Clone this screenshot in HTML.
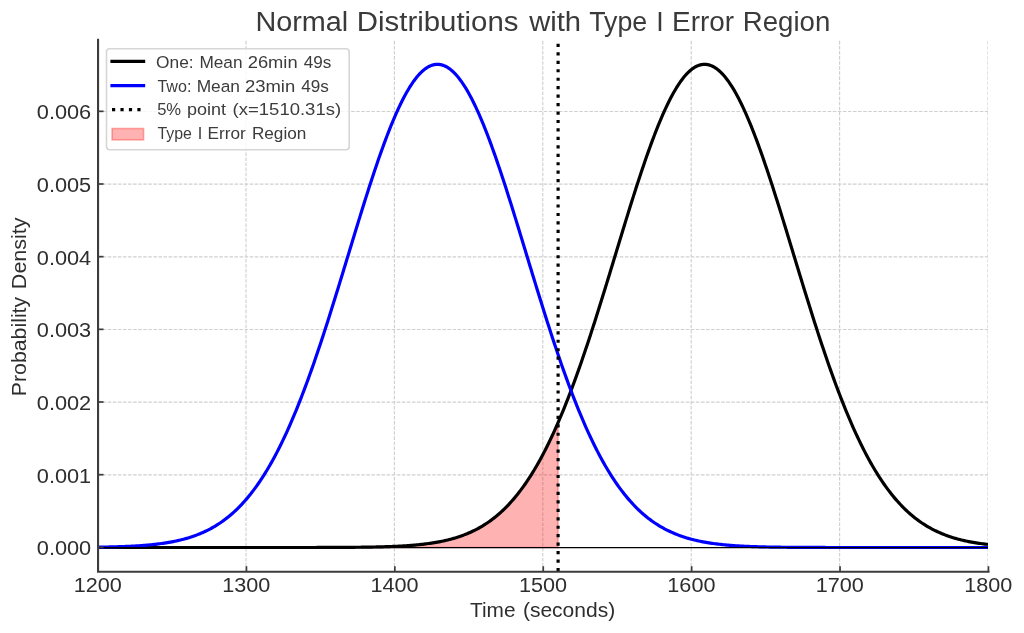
<!DOCTYPE html>
<html><head><meta charset="utf-8"><title>Normal Distributions with Type I Error Region</title>
<style>html,body{margin:0;padding:0;background:#fff;}body{width:1024px;height:633px;overflow:hidden;position:relative;font-family:"Liberation Sans",sans-serif;}</style>
</head><body>
<svg width="1024" height="633" viewBox="0 0 1024 633" style="position:absolute;left:0;top:0;display:block">
<rect width="1024" height="633" fill="#fff"/>
<clipPath id="c"><rect x="97.60" y="39.80" width="890.40" height="531.90"/></clipPath>
<g stroke="#d0d0d0" stroke-width="1.15" stroke-dasharray="3.55 1.52" fill="none" clip-path="url(#c)">
<path d="M97.60,571.70 V39.80"/>
<path d="M246.00,571.70 V39.80"/>
<path d="M394.40,571.70 V39.80"/>
<path d="M542.80,571.70 V39.80"/>
<path d="M691.20,571.70 V39.80"/>
<path d="M839.60,571.70 V39.80"/>
<path d="M988.00,571.70 V39.80"/>
<path d="M97.60,547.50 H988.00"/>
<path d="M97.60,474.83 H988.00"/>
<path d="M97.60,402.16 H988.00"/>
<path d="M97.60,329.49 H988.00"/>
<path d="M97.60,256.82 H988.00"/>
<path d="M97.60,184.15 H988.00"/>
<path d="M97.60,111.48 H988.00"/>
</g>
<g clip-path="url(#c)" fill="none">
<path d="M97.60,547.50 L99.08,547.50 L100.57,547.50 L102.05,547.50 L103.54,547.50 L105.02,547.50 L106.50,547.50 L107.99,547.50 L109.47,547.50 L110.96,547.50 L112.44,547.50 L113.92,547.50 L115.41,547.50 L116.89,547.50 L118.38,547.50 L119.86,547.50 L121.34,547.50 L122.83,547.50 L124.31,547.50 L125.80,547.50 L127.28,547.50 L128.76,547.50 L130.25,547.50 L131.73,547.50 L133.22,547.50 L134.70,547.50 L136.18,547.50 L137.67,547.50 L139.15,547.50 L140.64,547.50 L142.12,547.50 L143.60,547.50 L145.09,547.50 L146.57,547.50 L148.06,547.50 L149.54,547.50 L151.02,547.50 L152.51,547.50 L153.99,547.50 L155.48,547.50 L156.96,547.50 L158.44,547.50 L159.93,547.50 L161.41,547.50 L162.90,547.50 L164.38,547.50 L165.86,547.50 L167.35,547.50 L168.83,547.50 L170.32,547.50 L171.80,547.50 L173.28,547.50 L174.77,547.50 L176.25,547.50 L177.74,547.50 L179.22,547.50 L180.70,547.50 L182.19,547.50 L183.67,547.50 L185.16,547.50 L186.64,547.50 L188.12,547.50 L189.61,547.50 L191.09,547.50 L192.58,547.50 L194.06,547.50 L195.54,547.50 L197.03,547.50 L198.51,547.50 L200.00,547.50 L201.48,547.50 L202.96,547.50 L204.45,547.50 L205.93,547.50 L207.42,547.50 L208.90,547.50 L210.38,547.50 L211.87,547.50 L213.35,547.50 L214.84,547.50 L216.32,547.50 L217.80,547.50 L219.29,547.50 L220.77,547.50 L222.26,547.50 L223.74,547.50 L225.22,547.50 L226.71,547.50 L228.19,547.50 L229.68,547.50 L231.16,547.50 L232.64,547.50 L234.13,547.50 L235.61,547.50 L237.10,547.50 L238.58,547.50 L240.06,547.50 L241.55,547.50 L243.03,547.50 L244.52,547.50 L246.00,547.50 L247.48,547.50 L248.97,547.50 L250.45,547.50 L251.94,547.50 L253.42,547.50 L254.90,547.50 L256.39,547.50 L257.87,547.50 L259.36,547.50 L260.84,547.50 L262.32,547.50 L263.81,547.50 L265.29,547.50 L266.78,547.50 L268.26,547.50 L269.74,547.50 L271.23,547.50 L272.71,547.50 L274.20,547.50 L275.68,547.50 L277.16,547.50 L278.65,547.49 L280.13,547.49 L281.62,547.49 L283.10,547.49 L284.58,547.49 L286.07,547.49 L287.55,547.49 L289.04,547.49 L290.52,547.49 L292.00,547.49 L293.49,547.49 L294.97,547.49 L296.46,547.49 L297.94,547.49 L299.42,547.48 L300.91,547.48 L302.39,547.48 L303.88,547.48 L305.36,547.48 L306.84,547.48 L308.33,547.48 L309.81,547.47 L311.30,547.47 L312.78,547.47 L314.26,547.47 L315.75,547.47 L317.23,547.46 L318.72,547.46 L320.20,547.46 L321.68,547.45 L323.17,547.45 L324.65,547.45 L326.14,547.44 L327.62,547.44 L329.10,547.43 L330.59,547.43 L332.07,547.42 L333.56,547.42 L335.04,547.41 L336.52,547.41 L338.01,547.40 L339.49,547.39 L340.98,547.38 L342.46,547.38 L343.94,547.37 L345.43,547.36 L346.91,547.35 L348.40,547.34 L349.88,547.33 L351.36,547.31 L352.85,547.30 L354.33,547.29 L355.82,547.27 L357.30,547.26 L358.78,547.24 L360.27,547.23 L361.75,547.21 L363.24,547.19 L364.72,547.17 L366.20,547.15 L367.69,547.12 L369.17,547.10 L370.66,547.07 L372.14,547.05 L373.62,547.02 L375.11,546.99 L376.59,546.95 L378.08,546.92 L379.56,546.88 L381.04,546.84 L382.53,546.80 L384.01,546.76 L385.50,546.71 L386.98,546.66 L388.46,546.61 L389.95,546.56 L391.43,546.50 L392.92,546.44 L394.40,546.38 L395.88,546.31 L397.37,546.24 L398.85,546.17 L400.34,546.09 L401.82,546.01 L403.30,545.92 L404.79,545.83 L406.27,545.73 L407.76,545.63 L409.24,545.53 L410.72,545.41 L412.21,545.30 L413.69,545.17 L415.18,545.04 L416.66,544.91 L418.14,544.76 L419.63,544.61 L421.11,544.45 L422.60,544.29 L424.08,544.12 L425.56,543.93 L427.05,543.74 L428.53,543.54 L430.02,543.33 L431.50,543.12 L432.98,542.89 L434.47,542.65 L435.95,542.39 L437.44,542.13 L438.92,541.86 L440.40,541.57 L441.89,541.27 L443.37,540.96 L444.86,540.63 L446.34,540.29 L447.82,539.93 L449.31,539.56 L450.79,539.18 L452.28,538.77 L453.76,538.35 L455.24,537.91 L456.73,537.46 L458.21,536.98 L459.70,536.49 L461.18,535.97 L462.66,535.44 L464.15,534.88 L465.63,534.30 L467.12,533.70 L468.60,533.07 L470.08,532.42 L471.57,531.75 L473.05,531.05 L474.54,530.32 L476.02,529.57 L477.50,528.79 L478.99,527.98 L480.47,527.14 L481.96,526.27 L483.44,525.37 L484.92,524.44 L486.41,523.47 L487.89,522.48 L489.38,521.44 L490.86,520.38 L492.34,519.27 L493.83,518.13 L495.31,516.96 L496.80,515.74 L498.28,514.49 L499.76,513.19 L501.25,511.86 L502.73,510.48 L504.22,509.06 L505.70,507.59 L507.18,506.09 L508.67,504.53 L510.15,502.94 L511.64,501.29 L513.12,499.60 L514.60,497.86 L516.09,496.07 L517.57,494.23 L519.06,492.34 L520.54,490.40 L522.02,488.40 L523.51,486.36 L524.99,484.26 L526.48,482.11 L527.96,479.90 L529.44,477.64 L530.93,475.32 L532.41,472.95 L533.90,470.52 L535.38,468.03 L536.86,465.48 L538.35,462.88 L539.83,460.22 L541.32,457.50 L542.80,454.72 L544.28,451.88 L545.77,448.98 L547.25,446.02 L548.74,443.00 L550.22,439.93 L551.70,436.79 L553.19,433.59 L554.67,430.33 L556.16,427.02 L557.64,423.64 L558.10,422.58 L558.10,547.50 L97.60,547.50 Z" fill="#ff0000" fill-opacity="0.3" stroke="#ff0000" stroke-opacity="0.3" stroke-width="1.6"/>
<path d="M97.60,547.50 L99.08,547.50 L100.57,547.50 L102.05,547.50 L103.54,547.50 L105.02,547.50 L106.50,547.50 L107.99,547.50 L109.47,547.50 L110.96,547.50 L112.44,547.50 L113.92,547.50 L115.41,547.50 L116.89,547.50 L118.38,547.50 L119.86,547.50 L121.34,547.50 L122.83,547.50 L124.31,547.50 L125.80,547.50 L127.28,547.50 L128.76,547.50 L130.25,547.50 L131.73,547.50 L133.22,547.50 L134.70,547.50 L136.18,547.50 L137.67,547.50 L139.15,547.50 L140.64,547.50 L142.12,547.50 L143.60,547.50 L145.09,547.50 L146.57,547.50 L148.06,547.50 L149.54,547.50 L151.02,547.50 L152.51,547.50 L153.99,547.50 L155.48,547.50 L156.96,547.50 L158.44,547.50 L159.93,547.50 L161.41,547.50 L162.90,547.50 L164.38,547.50 L165.86,547.50 L167.35,547.50 L168.83,547.50 L170.32,547.50 L171.80,547.50 L173.28,547.50 L174.77,547.50 L176.25,547.50 L177.74,547.50 L179.22,547.50 L180.70,547.50 L182.19,547.50 L183.67,547.50 L185.16,547.50 L186.64,547.50 L188.12,547.50 L189.61,547.50 L191.09,547.50 L192.58,547.50 L194.06,547.50 L195.54,547.50 L197.03,547.50 L198.51,547.50 L200.00,547.50 L201.48,547.50 L202.96,547.50 L204.45,547.50 L205.93,547.50 L207.42,547.50 L208.90,547.50 L210.38,547.50 L211.87,547.50 L213.35,547.50 L214.84,547.50 L216.32,547.50 L217.80,547.50 L219.29,547.50 L220.77,547.50 L222.26,547.50 L223.74,547.50 L225.22,547.50 L226.71,547.50 L228.19,547.50 L229.68,547.50 L231.16,547.50 L232.64,547.50 L234.13,547.50 L235.61,547.50 L237.10,547.50 L238.58,547.50 L240.06,547.50 L241.55,547.50 L243.03,547.50 L244.52,547.50 L246.00,547.50 L247.48,547.50 L248.97,547.50 L250.45,547.50 L251.94,547.50 L253.42,547.50 L254.90,547.50 L256.39,547.50 L257.87,547.50 L259.36,547.50 L260.84,547.50 L262.32,547.50 L263.81,547.50 L265.29,547.50 L266.78,547.50 L268.26,547.50 L269.74,547.50 L271.23,547.50 L272.71,547.50 L274.20,547.50 L275.68,547.50 L277.16,547.50 L278.65,547.49 L280.13,547.49 L281.62,547.49 L283.10,547.49 L284.58,547.49 L286.07,547.49 L287.55,547.49 L289.04,547.49 L290.52,547.49 L292.00,547.49 L293.49,547.49 L294.97,547.49 L296.46,547.49 L297.94,547.49 L299.42,547.48 L300.91,547.48 L302.39,547.48 L303.88,547.48 L305.36,547.48 L306.84,547.48 L308.33,547.48 L309.81,547.47 L311.30,547.47 L312.78,547.47 L314.26,547.47 L315.75,547.47 L317.23,547.46 L318.72,547.46 L320.20,547.46 L321.68,547.45 L323.17,547.45 L324.65,547.45 L326.14,547.44 L327.62,547.44 L329.10,547.43 L330.59,547.43 L332.07,547.42 L333.56,547.42 L335.04,547.41 L336.52,547.41 L338.01,547.40 L339.49,547.39 L340.98,547.38 L342.46,547.38 L343.94,547.37 L345.43,547.36 L346.91,547.35 L348.40,547.34 L349.88,547.33 L351.36,547.31 L352.85,547.30 L354.33,547.29 L355.82,547.27 L357.30,547.26 L358.78,547.24 L360.27,547.23 L361.75,547.21 L363.24,547.19 L364.72,547.17 L366.20,547.15 L367.69,547.12 L369.17,547.10 L370.66,547.07 L372.14,547.05 L373.62,547.02 L375.11,546.99 L376.59,546.95 L378.08,546.92 L379.56,546.88 L381.04,546.84 L382.53,546.80 L384.01,546.76 L385.50,546.71 L386.98,546.66 L388.46,546.61 L389.95,546.56 L391.43,546.50 L392.92,546.44 L394.40,546.38 L395.88,546.31 L397.37,546.24 L398.85,546.17 L400.34,546.09 L401.82,546.01 L403.30,545.92 L404.79,545.83 L406.27,545.73 L407.76,545.63 L409.24,545.53 L410.72,545.41 L412.21,545.30 L413.69,545.17 L415.18,545.04 L416.66,544.91 L418.14,544.76 L419.63,544.61 L421.11,544.45 L422.60,544.29 L424.08,544.12 L425.56,543.93 L427.05,543.74 L428.53,543.54 L430.02,543.33 L431.50,543.12 L432.98,542.89 L434.47,542.65 L435.95,542.39 L437.44,542.13 L438.92,541.86 L440.40,541.57 L441.89,541.27 L443.37,540.96 L444.86,540.63 L446.34,540.29 L447.82,539.93 L449.31,539.56 L450.79,539.18 L452.28,538.77 L453.76,538.35 L455.24,537.91 L456.73,537.46 L458.21,536.98 L459.70,536.49 L461.18,535.97 L462.66,535.44 L464.15,534.88 L465.63,534.30 L467.12,533.70 L468.60,533.07 L470.08,532.42 L471.57,531.75 L473.05,531.05 L474.54,530.32 L476.02,529.57 L477.50,528.79 L478.99,527.98 L480.47,527.14 L481.96,526.27 L483.44,525.37 L484.92,524.44 L486.41,523.47 L487.89,522.48 L489.38,521.44 L490.86,520.38 L492.34,519.27 L493.83,518.13 L495.31,516.96 L496.80,515.74 L498.28,514.49 L499.76,513.19 L501.25,511.86 L502.73,510.48 L504.22,509.06 L505.70,507.59 L507.18,506.09 L508.67,504.53 L510.15,502.94 L511.64,501.29 L513.12,499.60 L514.60,497.86 L516.09,496.07 L517.57,494.23 L519.06,492.34 L520.54,490.40 L522.02,488.40 L523.51,486.36 L524.99,484.26 L526.48,482.11 L527.96,479.90 L529.44,477.64 L530.93,475.32 L532.41,472.95 L533.90,470.52 L535.38,468.03 L536.86,465.48 L538.35,462.88 L539.83,460.22 L541.32,457.50 L542.80,454.72 L544.28,451.88 L545.77,448.98 L547.25,446.02 L548.74,443.00 L550.22,439.93 L551.70,436.79 L553.19,433.59 L554.67,430.33 L556.16,427.02 L557.64,423.64 L559.12,420.20 L560.61,416.71 L562.09,413.16 L563.58,409.54 L565.06,405.88 L566.54,402.15 L568.03,398.37 L569.51,394.53 L571.00,390.63 L572.48,386.68 L573.96,382.68 L575.45,378.63 L576.93,374.52 L578.42,370.36 L579.90,366.16 L581.38,361.90 L582.87,357.60 L584.35,353.25 L585.84,348.86 L587.32,344.42 L588.80,339.94 L590.29,335.43 L591.77,330.87 L593.26,326.28 L594.74,321.66 L596.22,317.00 L597.71,312.31 L599.19,307.59 L600.68,302.85 L602.16,298.08 L603.64,293.29 L605.13,288.47 L606.61,283.64 L608.10,278.80 L609.58,273.94 L611.06,269.07 L612.55,264.20 L614.03,259.32 L615.52,254.43 L617.00,249.55 L618.48,244.67 L619.97,239.79 L621.45,234.92 L622.94,230.07 L624.42,225.23 L625.90,220.40 L627.39,215.60 L628.87,210.81 L630.36,206.06 L631.84,201.33 L633.32,196.64 L634.81,191.98 L636.29,187.35 L637.78,182.77 L639.26,178.24 L640.74,173.75 L642.23,169.31 L643.71,164.92 L645.20,160.60 L646.68,156.33 L648.16,152.12 L649.65,147.98 L651.13,143.91 L652.62,139.91 L654.10,135.99 L655.58,132.14 L657.07,128.37 L658.55,124.69 L660.04,121.09 L661.52,117.58 L663.00,114.16 L664.49,110.84 L665.97,107.62 L667.46,104.49 L668.94,101.46 L670.42,98.54 L671.91,95.73 L673.39,93.02 L674.88,90.43 L676.36,87.94 L677.84,85.58 L679.33,83.32 L680.81,81.19 L682.30,79.18 L683.78,77.29 L685.26,75.52 L686.75,73.88 L688.23,72.37 L689.72,70.98 L691.20,69.72 L692.68,68.59 L694.17,67.59 L695.65,66.72 L697.14,65.99 L698.62,65.39 L700.10,64.92 L701.59,64.58 L703.07,64.38 L704.56,64.31 L706.04,64.38 L707.52,64.58 L709.01,64.92 L710.49,65.39 L711.98,65.99 L713.46,66.72 L714.94,67.59 L716.43,68.59 L717.91,69.72 L719.40,70.98 L720.88,72.37 L722.36,73.88 L723.85,75.52 L725.33,77.29 L726.82,79.18 L728.30,81.19 L729.78,83.32 L731.27,85.58 L732.75,87.94 L734.24,90.43 L735.72,93.02 L737.20,95.73 L738.69,98.54 L740.17,101.46 L741.66,104.49 L743.14,107.62 L744.62,110.84 L746.11,114.16 L747.59,117.58 L749.08,121.09 L750.56,124.69 L752.04,128.37 L753.53,132.14 L755.01,135.99 L756.50,139.91 L757.98,143.91 L759.46,147.98 L760.95,152.12 L762.43,156.33 L763.92,160.60 L765.40,164.92 L766.88,169.31 L768.37,173.75 L769.85,178.24 L771.34,182.77 L772.82,187.35 L774.30,191.98 L775.79,196.64 L777.27,201.33 L778.76,206.06 L780.24,210.81 L781.72,215.60 L783.21,220.40 L784.69,225.23 L786.18,230.07 L787.66,234.92 L789.14,239.79 L790.63,244.67 L792.11,249.55 L793.60,254.43 L795.08,259.32 L796.56,264.20 L798.05,269.07 L799.53,273.94 L801.02,278.80 L802.50,283.64 L803.98,288.47 L805.47,293.29 L806.95,298.08 L808.44,302.85 L809.92,307.59 L811.40,312.31 L812.89,317.00 L814.37,321.66 L815.86,326.28 L817.34,330.87 L818.82,335.43 L820.31,339.94 L821.79,344.42 L823.28,348.86 L824.76,353.25 L826.24,357.60 L827.73,361.90 L829.21,366.16 L830.70,370.36 L832.18,374.52 L833.66,378.63 L835.15,382.68 L836.63,386.68 L838.12,390.63 L839.60,394.53 L841.08,398.37 L842.57,402.15 L844.05,405.88 L845.54,409.54 L847.02,413.16 L848.50,416.71 L849.99,420.20 L851.47,423.64 L852.96,427.02 L854.44,430.33 L855.92,433.59 L857.41,436.79 L858.89,439.93 L860.38,443.00 L861.86,446.02 L863.34,448.98 L864.83,451.88 L866.31,454.72 L867.80,457.50 L869.28,460.22 L870.76,462.88 L872.25,465.48 L873.73,468.03 L875.22,470.52 L876.70,472.95 L878.18,475.32 L879.67,477.64 L881.15,479.90 L882.64,482.11 L884.12,484.26 L885.60,486.36 L887.09,488.40 L888.57,490.40 L890.06,492.34 L891.54,494.23 L893.02,496.07 L894.51,497.86 L895.99,499.60 L897.48,501.29 L898.96,502.94 L900.44,504.53 L901.93,506.09 L903.41,507.59 L904.90,509.06 L906.38,510.48 L907.86,511.86 L909.35,513.19 L910.83,514.49 L912.32,515.74 L913.80,516.96 L915.28,518.13 L916.77,519.27 L918.25,520.38 L919.74,521.44 L921.22,522.48 L922.70,523.47 L924.19,524.44 L925.67,525.37 L927.16,526.27 L928.64,527.14 L930.12,527.98 L931.61,528.79 L933.09,529.57 L934.58,530.32 L936.06,531.05 L937.54,531.75 L939.03,532.42 L940.51,533.07 L942.00,533.70 L943.48,534.30 L944.96,534.88 L946.45,535.44 L947.93,535.97 L949.42,536.49 L950.90,536.98 L952.38,537.46 L953.87,537.91 L955.35,538.35 L956.84,538.77 L958.32,539.18 L959.80,539.56 L961.29,539.93 L962.77,540.29 L964.26,540.63 L965.74,540.96 L967.22,541.27 L968.71,541.57 L970.19,541.86 L971.68,542.13 L973.16,542.39 L974.64,542.65 L976.13,542.89 L977.61,543.12 L979.10,543.33 L980.58,543.54 L982.06,543.74 L983.55,543.93 L985.03,544.12 L986.52,544.29 L988.00,544.45" stroke="#000" stroke-width="3.19" stroke-linejoin="round"/>
<path d="M97.60,547.17 L99.08,547.15 L100.57,547.12 L102.05,547.10 L103.54,547.07 L105.02,547.05 L106.50,547.02 L107.99,546.99 L109.47,546.95 L110.96,546.92 L112.44,546.88 L113.92,546.84 L115.41,546.80 L116.89,546.76 L118.38,546.71 L119.86,546.66 L121.34,546.61 L122.83,546.56 L124.31,546.50 L125.80,546.44 L127.28,546.38 L128.76,546.31 L130.25,546.24 L131.73,546.17 L133.22,546.09 L134.70,546.01 L136.18,545.92 L137.67,545.83 L139.15,545.73 L140.64,545.63 L142.12,545.53 L143.60,545.41 L145.09,545.30 L146.57,545.17 L148.06,545.04 L149.54,544.91 L151.02,544.76 L152.51,544.61 L153.99,544.45 L155.48,544.29 L156.96,544.12 L158.44,543.93 L159.93,543.74 L161.41,543.54 L162.90,543.33 L164.38,543.12 L165.86,542.89 L167.35,542.65 L168.83,542.39 L170.32,542.13 L171.80,541.86 L173.28,541.57 L174.77,541.27 L176.25,540.96 L177.74,540.63 L179.22,540.29 L180.70,539.93 L182.19,539.56 L183.67,539.18 L185.16,538.77 L186.64,538.35 L188.12,537.91 L189.61,537.46 L191.09,536.98 L192.58,536.49 L194.06,535.97 L195.54,535.44 L197.03,534.88 L198.51,534.30 L200.00,533.70 L201.48,533.07 L202.96,532.42 L204.45,531.75 L205.93,531.05 L207.42,530.32 L208.90,529.57 L210.38,528.79 L211.87,527.98 L213.35,527.14 L214.84,526.27 L216.32,525.37 L217.80,524.44 L219.29,523.47 L220.77,522.48 L222.26,521.44 L223.74,520.38 L225.22,519.27 L226.71,518.13 L228.19,516.96 L229.68,515.74 L231.16,514.49 L232.64,513.19 L234.13,511.86 L235.61,510.48 L237.10,509.06 L238.58,507.59 L240.06,506.09 L241.55,504.53 L243.03,502.94 L244.52,501.29 L246.00,499.60 L247.48,497.86 L248.97,496.07 L250.45,494.23 L251.94,492.34 L253.42,490.40 L254.90,488.40 L256.39,486.36 L257.87,484.26 L259.36,482.11 L260.84,479.90 L262.32,477.64 L263.81,475.32 L265.29,472.95 L266.78,470.52 L268.26,468.03 L269.74,465.48 L271.23,462.88 L272.71,460.22 L274.20,457.50 L275.68,454.72 L277.16,451.88 L278.65,448.98 L280.13,446.02 L281.62,443.00 L283.10,439.93 L284.58,436.79 L286.07,433.59 L287.55,430.33 L289.04,427.02 L290.52,423.64 L292.00,420.20 L293.49,416.71 L294.97,413.16 L296.46,409.54 L297.94,405.88 L299.42,402.15 L300.91,398.37 L302.39,394.53 L303.88,390.63 L305.36,386.68 L306.84,382.68 L308.33,378.63 L309.81,374.52 L311.30,370.36 L312.78,366.16 L314.26,361.90 L315.75,357.60 L317.23,353.25 L318.72,348.86 L320.20,344.42 L321.68,339.94 L323.17,335.43 L324.65,330.87 L326.14,326.28 L327.62,321.66 L329.10,317.00 L330.59,312.31 L332.07,307.59 L333.56,302.85 L335.04,298.08 L336.52,293.29 L338.01,288.47 L339.49,283.64 L340.98,278.80 L342.46,273.94 L343.94,269.07 L345.43,264.20 L346.91,259.32 L348.40,254.43 L349.88,249.55 L351.36,244.67 L352.85,239.79 L354.33,234.92 L355.82,230.07 L357.30,225.23 L358.78,220.40 L360.27,215.60 L361.75,210.81 L363.24,206.06 L364.72,201.33 L366.20,196.64 L367.69,191.98 L369.17,187.35 L370.66,182.77 L372.14,178.24 L373.62,173.75 L375.11,169.31 L376.59,164.92 L378.08,160.60 L379.56,156.33 L381.04,152.12 L382.53,147.98 L384.01,143.91 L385.50,139.91 L386.98,135.99 L388.46,132.14 L389.95,128.37 L391.43,124.69 L392.92,121.09 L394.40,117.58 L395.88,114.16 L397.37,110.84 L398.85,107.62 L400.34,104.49 L401.82,101.46 L403.30,98.54 L404.79,95.73 L406.27,93.02 L407.76,90.43 L409.24,87.94 L410.72,85.58 L412.21,83.32 L413.69,81.19 L415.18,79.18 L416.66,77.29 L418.14,75.52 L419.63,73.88 L421.11,72.37 L422.60,70.98 L424.08,69.72 L425.56,68.59 L427.05,67.59 L428.53,66.72 L430.02,65.99 L431.50,65.39 L432.98,64.92 L434.47,64.58 L435.95,64.38 L437.44,64.31 L438.92,64.38 L440.40,64.58 L441.89,64.92 L443.37,65.39 L444.86,65.99 L446.34,66.72 L447.82,67.59 L449.31,68.59 L450.79,69.72 L452.28,70.98 L453.76,72.37 L455.24,73.88 L456.73,75.52 L458.21,77.29 L459.70,79.18 L461.18,81.19 L462.66,83.32 L464.15,85.58 L465.63,87.94 L467.12,90.43 L468.60,93.02 L470.08,95.73 L471.57,98.54 L473.05,101.46 L474.54,104.49 L476.02,107.62 L477.50,110.84 L478.99,114.16 L480.47,117.58 L481.96,121.09 L483.44,124.69 L484.92,128.37 L486.41,132.14 L487.89,135.99 L489.38,139.91 L490.86,143.91 L492.34,147.98 L493.83,152.12 L495.31,156.33 L496.80,160.60 L498.28,164.92 L499.76,169.31 L501.25,173.75 L502.73,178.24 L504.22,182.77 L505.70,187.35 L507.18,191.98 L508.67,196.64 L510.15,201.33 L511.64,206.06 L513.12,210.81 L514.60,215.60 L516.09,220.40 L517.57,225.23 L519.06,230.07 L520.54,234.92 L522.02,239.79 L523.51,244.67 L524.99,249.55 L526.48,254.43 L527.96,259.32 L529.44,264.20 L530.93,269.07 L532.41,273.94 L533.90,278.80 L535.38,283.64 L536.86,288.47 L538.35,293.29 L539.83,298.08 L541.32,302.85 L542.80,307.59 L544.28,312.31 L545.77,317.00 L547.25,321.66 L548.74,326.28 L550.22,330.87 L551.70,335.43 L553.19,339.94 L554.67,344.42 L556.16,348.86 L557.64,353.25 L559.12,357.60 L560.61,361.90 L562.09,366.16 L563.58,370.36 L565.06,374.52 L566.54,378.63 L568.03,382.68 L569.51,386.68 L571.00,390.63 L572.48,394.53 L573.96,398.37 L575.45,402.15 L576.93,405.88 L578.42,409.54 L579.90,413.16 L581.38,416.71 L582.87,420.20 L584.35,423.64 L585.84,427.02 L587.32,430.33 L588.80,433.59 L590.29,436.79 L591.77,439.93 L593.26,443.00 L594.74,446.02 L596.22,448.98 L597.71,451.88 L599.19,454.72 L600.68,457.50 L602.16,460.22 L603.64,462.88 L605.13,465.48 L606.61,468.03 L608.10,470.52 L609.58,472.95 L611.06,475.32 L612.55,477.64 L614.03,479.90 L615.52,482.11 L617.00,484.26 L618.48,486.36 L619.97,488.40 L621.45,490.40 L622.94,492.34 L624.42,494.23 L625.90,496.07 L627.39,497.86 L628.87,499.60 L630.36,501.29 L631.84,502.94 L633.32,504.53 L634.81,506.09 L636.29,507.59 L637.78,509.06 L639.26,510.48 L640.74,511.86 L642.23,513.19 L643.71,514.49 L645.20,515.74 L646.68,516.96 L648.16,518.13 L649.65,519.27 L651.13,520.38 L652.62,521.44 L654.10,522.48 L655.58,523.47 L657.07,524.44 L658.55,525.37 L660.04,526.27 L661.52,527.14 L663.00,527.98 L664.49,528.79 L665.97,529.57 L667.46,530.32 L668.94,531.05 L670.42,531.75 L671.91,532.42 L673.39,533.07 L674.88,533.70 L676.36,534.30 L677.84,534.88 L679.33,535.44 L680.81,535.97 L682.30,536.49 L683.78,536.98 L685.26,537.46 L686.75,537.91 L688.23,538.35 L689.72,538.77 L691.20,539.18 L692.68,539.56 L694.17,539.93 L695.65,540.29 L697.14,540.63 L698.62,540.96 L700.10,541.27 L701.59,541.57 L703.07,541.86 L704.56,542.13 L706.04,542.39 L707.52,542.65 L709.01,542.89 L710.49,543.12 L711.98,543.33 L713.46,543.54 L714.94,543.74 L716.43,543.93 L717.91,544.12 L719.40,544.29 L720.88,544.45 L722.36,544.61 L723.85,544.76 L725.33,544.91 L726.82,545.04 L728.30,545.17 L729.78,545.30 L731.27,545.41 L732.75,545.53 L734.24,545.63 L735.72,545.73 L737.20,545.83 L738.69,545.92 L740.17,546.01 L741.66,546.09 L743.14,546.17 L744.62,546.24 L746.11,546.31 L747.59,546.38 L749.08,546.44 L750.56,546.50 L752.04,546.56 L753.53,546.61 L755.01,546.66 L756.50,546.71 L757.98,546.76 L759.46,546.80 L760.95,546.84 L762.43,546.88 L763.92,546.92 L765.40,546.95 L766.88,546.99 L768.37,547.02 L769.85,547.05 L771.34,547.07 L772.82,547.10 L774.30,547.12 L775.79,547.15 L777.27,547.17 L778.76,547.19 L780.24,547.21 L781.72,547.23 L783.21,547.24 L784.69,547.26 L786.18,547.27 L787.66,547.29 L789.14,547.30 L790.63,547.31 L792.11,547.33 L793.60,547.34 L795.08,547.35 L796.56,547.36 L798.05,547.37 L799.53,547.38 L801.02,547.38 L802.50,547.39 L803.98,547.40 L805.47,547.41 L806.95,547.41 L808.44,547.42 L809.92,547.42 L811.40,547.43 L812.89,547.43 L814.37,547.44 L815.86,547.44 L817.34,547.45 L818.82,547.45 L820.31,547.45 L821.79,547.46 L823.28,547.46 L824.76,547.46 L826.24,547.47 L827.73,547.47 L829.21,547.47 L830.70,547.47 L832.18,547.47 L833.66,547.48 L835.15,547.48 L836.63,547.48 L838.12,547.48 L839.60,547.48 L841.08,547.48 L842.57,547.48 L844.05,547.49 L845.54,547.49 L847.02,547.49 L848.50,547.49 L849.99,547.49 L851.47,547.49 L852.96,547.49 L854.44,547.49 L855.92,547.49 L857.41,547.49 L858.89,547.49 L860.38,547.49 L861.86,547.49 L863.34,547.49 L864.83,547.50 L866.31,547.50 L867.80,547.50 L869.28,547.50 L870.76,547.50 L872.25,547.50 L873.73,547.50 L875.22,547.50 L876.70,547.50 L878.18,547.50 L879.67,547.50 L881.15,547.50 L882.64,547.50 L884.12,547.50 L885.60,547.50 L887.09,547.50 L888.57,547.50 L890.06,547.50 L891.54,547.50 L893.02,547.50 L894.51,547.50 L895.99,547.50 L897.48,547.50 L898.96,547.50 L900.44,547.50 L901.93,547.50 L903.41,547.50 L904.90,547.50 L906.38,547.50 L907.86,547.50 L909.35,547.50 L910.83,547.50 L912.32,547.50 L913.80,547.50 L915.28,547.50 L916.77,547.50 L918.25,547.50 L919.74,547.50 L921.22,547.50 L922.70,547.50 L924.19,547.50 L925.67,547.50 L927.16,547.50 L928.64,547.50 L930.12,547.50 L931.61,547.50 L933.09,547.50 L934.58,547.50 L936.06,547.50 L937.54,547.50 L939.03,547.50 L940.51,547.50 L942.00,547.50 L943.48,547.50 L944.96,547.50 L946.45,547.50 L947.93,547.50 L949.42,547.50 L950.90,547.50 L952.38,547.50 L953.87,547.50 L955.35,547.50 L956.84,547.50 L958.32,547.50 L959.80,547.50 L961.29,547.50 L962.77,547.50 L964.26,547.50 L965.74,547.50 L967.22,547.50 L968.71,547.50 L970.19,547.50 L971.68,547.50 L973.16,547.50 L974.64,547.50 L976.13,547.50 L977.61,547.50 L979.10,547.50 L980.58,547.50 L982.06,547.50 L983.55,547.50 L985.03,547.50 L986.52,547.50 L988.00,547.50" stroke="#0000ff" stroke-width="3.19" stroke-linejoin="round"/>
<path d="M558.10,571.70 V39.80" stroke="#000" stroke-width="3.19" stroke-dasharray="3.190 5.263" stroke-dashoffset="-0.6"/>
<path d="M97.60,547.65 H988.00" stroke="#000" stroke-width="1.4"/>
</g>
<g stroke="#3c3c3c" stroke-width="1.7" fill="none">
<path d="M98.05,571.70 v-5.5"/>
<path d="M246.45,571.70 v-5.5"/>
<path d="M394.85,571.70 v-5.5"/>
<path d="M543.25,571.70 v-5.5"/>
<path d="M691.65,571.70 v-5.5"/>
<path d="M840.05,571.70 v-5.5"/>
<path d="M988.45,571.70 v-5.5"/>
<path d="M98.05,547.35 h5.5"/>
<path d="M98.05,474.68 h5.5"/>
<path d="M98.05,402.01 h5.5"/>
<path d="M98.05,329.34 h5.5"/>
<path d="M98.05,256.67 h5.5"/>
<path d="M98.05,184.00 h5.5"/>
<path d="M98.05,111.33 h5.5"/>
</g>
<path d="M98.05,39.80 V571.70 H988.45" stroke="#3c3c3c" stroke-width="2.1" fill="none" stroke-linecap="square"/>
<rect x="106.5" y="48.7" width="242.7" height="101" rx="3.2" fill="#fff" fill-opacity="0.8" stroke="#d6d6d6" stroke-width="1.6"/>
<path d="M112,61.45 H143.6" stroke="#000" stroke-width="3.19" stroke-linecap="square"/>
<path d="M112,85.65 H143.6" stroke="#0000ff" stroke-width="3.19" stroke-linecap="square"/>
<path d="M112,109.7 H143.6" stroke="#000" stroke-width="3.19" stroke-dasharray="3.190 5.263"/>
<rect x="112" y="128.5" width="31.599999999999994" height="11.4" fill="#ff0000" fill-opacity="0.3" stroke="#ff0000" stroke-opacity="0.3" stroke-width="1.6"/>
<g opacity="0.999">
<text x="97.80" y="592.0" font-size="20" text-anchor="middle" fill="#2e2e2e" style="font-family:'Liberation Sans',sans-serif" textLength="48.1" lengthAdjust="spacingAndGlyphs">1200</text>
<text x="246.20" y="592.0" font-size="20" text-anchor="middle" fill="#2e2e2e" style="font-family:'Liberation Sans',sans-serif" textLength="48.1" lengthAdjust="spacingAndGlyphs">1300</text>
<text x="394.60" y="592.0" font-size="20" text-anchor="middle" fill="#2e2e2e" style="font-family:'Liberation Sans',sans-serif" textLength="48.1" lengthAdjust="spacingAndGlyphs">1400</text>
<text x="543.00" y="592.0" font-size="20" text-anchor="middle" fill="#2e2e2e" style="font-family:'Liberation Sans',sans-serif" textLength="48.1" lengthAdjust="spacingAndGlyphs">1500</text>
<text x="691.40" y="592.0" font-size="20" text-anchor="middle" fill="#2e2e2e" style="font-family:'Liberation Sans',sans-serif" textLength="48.1" lengthAdjust="spacingAndGlyphs">1600</text>
<text x="839.80" y="592.0" font-size="20" text-anchor="middle" fill="#2e2e2e" style="font-family:'Liberation Sans',sans-serif" textLength="48.1" lengthAdjust="spacingAndGlyphs">1700</text>
<text x="988.20" y="592.0" font-size="20" text-anchor="middle" fill="#2e2e2e" style="font-family:'Liberation Sans',sans-serif" textLength="48.1" lengthAdjust="spacingAndGlyphs">1800</text>
<text x="91.2" y="555.30" font-size="20" text-anchor="end" fill="#2e2e2e" style="font-family:'Liberation Sans',sans-serif" textLength="54.4" lengthAdjust="spacingAndGlyphs">0.000</text>
<text x="91.2" y="482.63" font-size="20" text-anchor="end" fill="#2e2e2e" style="font-family:'Liberation Sans',sans-serif" textLength="54.4" lengthAdjust="spacingAndGlyphs">0.001</text>
<text x="91.2" y="409.96" font-size="20" text-anchor="end" fill="#2e2e2e" style="font-family:'Liberation Sans',sans-serif" textLength="54.4" lengthAdjust="spacingAndGlyphs">0.002</text>
<text x="91.2" y="337.29" font-size="20" text-anchor="end" fill="#2e2e2e" style="font-family:'Liberation Sans',sans-serif" textLength="54.4" lengthAdjust="spacingAndGlyphs">0.003</text>
<text x="91.2" y="264.62" font-size="20" text-anchor="end" fill="#2e2e2e" style="font-family:'Liberation Sans',sans-serif" textLength="54.4" lengthAdjust="spacingAndGlyphs">0.004</text>
<text x="91.2" y="191.95" font-size="20" text-anchor="end" fill="#2e2e2e" style="font-family:'Liberation Sans',sans-serif" textLength="54.4" lengthAdjust="spacingAndGlyphs">0.005</text>
<text x="91.2" y="119.28" font-size="20" text-anchor="end" fill="#2e2e2e" style="font-family:'Liberation Sans',sans-serif" textLength="54.4" lengthAdjust="spacingAndGlyphs">0.006</text>
<text x="470.05" y="617.0" font-size="19.6" text-anchor="start" fill="#2e2e2e" style="font-family:'Liberation Sans',sans-serif" textLength="45.5" lengthAdjust="spacingAndGlyphs">Time</text>
<text x="522.90" y="617.0" font-size="19.6" text-anchor="start" fill="#2e2e2e" style="font-family:'Liberation Sans',sans-serif" textLength="92.25" lengthAdjust="spacingAndGlyphs">(seconds)</text>
<g transform="translate(25.8,396.15) rotate(-90)"><text x="0" y="0" font-size="19.6" text-anchor="start" fill="#2e2e2e" style="font-family:'Liberation Sans',sans-serif" textLength="99.3" lengthAdjust="spacingAndGlyphs">Probability</text></g>
<g transform="translate(25.8,289.15) rotate(-90)"><text x="0" y="0" font-size="19.6" text-anchor="start" fill="#2e2e2e" style="font-family:'Liberation Sans',sans-serif" textLength="71.7" lengthAdjust="spacingAndGlyphs">Density</text></g>
<text x="255.40" y="30.8" font-size="26.8" text-anchor="start" fill="#3a3a3a" style="font-family:'Liberation Sans',sans-serif" textLength="92.8" lengthAdjust="spacingAndGlyphs">Normal</text>
<text x="356.80" y="30.8" font-size="26.8" text-anchor="start" fill="#3a3a3a" style="font-family:'Liberation Sans',sans-serif" textLength="161.65" lengthAdjust="spacingAndGlyphs">Distributions</text>
<text x="529.15" y="30.8" font-size="26.8" text-anchor="start" fill="#3a3a3a" style="font-family:'Liberation Sans',sans-serif" textLength="51.95" lengthAdjust="spacingAndGlyphs">with</text>
<text x="589.15" y="30.8" font-size="26.8" text-anchor="start" fill="#3a3a3a" style="font-family:'Liberation Sans',sans-serif" textLength="58.0" lengthAdjust="spacingAndGlyphs">Type</text>
<text x="656.30" y="30.8" font-size="26.8" text-anchor="start" fill="#3a3a3a" style="font-family:'Liberation Sans',sans-serif">I</text>
<text x="672.10" y="30.8" font-size="26.8" text-anchor="start" fill="#3a3a3a" style="font-family:'Liberation Sans',sans-serif" textLength="61.9" lengthAdjust="spacingAndGlyphs">Error</text>
<text x="742.80" y="30.8" font-size="26.8" text-anchor="start" fill="#3a3a3a" style="font-family:'Liberation Sans',sans-serif" textLength="87.45" lengthAdjust="spacingAndGlyphs">Region</text>
<text x="156.05" y="67.7" font-size="16.3" text-anchor="start" fill="#3c3c3c" style="font-family:'Liberation Sans',sans-serif" textLength="37.55" lengthAdjust="spacingAndGlyphs">One:</text>
<text x="199.40" y="67.7" font-size="16.3" text-anchor="start" fill="#3c3c3c" style="font-family:'Liberation Sans',sans-serif" textLength="43.15" lengthAdjust="spacingAndGlyphs">Mean</text>
<text x="247.70" y="67.7" font-size="16.3" text-anchor="start" fill="#3c3c3c" style="font-family:'Liberation Sans',sans-serif" textLength="49.95" lengthAdjust="spacingAndGlyphs">26min</text>
<text x="303.65" y="67.7" font-size="16.3" text-anchor="start" fill="#3c3c3c" style="font-family:'Liberation Sans',sans-serif" textLength="27.65" lengthAdjust="spacingAndGlyphs">49s</text>
<text x="157.40" y="91.5" font-size="16.3" text-anchor="start" fill="#3c3c3c" style="font-family:'Liberation Sans',sans-serif" textLength="34.0" lengthAdjust="spacingAndGlyphs">Two:</text>
<text x="196.65" y="91.5" font-size="16.3" text-anchor="start" fill="#3c3c3c" style="font-family:'Liberation Sans',sans-serif" textLength="43.35" lengthAdjust="spacingAndGlyphs">Mean</text>
<text x="244.95" y="91.5" font-size="16.3" text-anchor="start" fill="#3c3c3c" style="font-family:'Liberation Sans',sans-serif" textLength="50.3" lengthAdjust="spacingAndGlyphs">23min</text>
<text x="301.15" y="91.5" font-size="16.3" text-anchor="start" fill="#3c3c3c" style="font-family:'Liberation Sans',sans-serif" textLength="27.65" lengthAdjust="spacingAndGlyphs">49s</text>
<text x="157.15" y="115.0" font-size="16.3" text-anchor="start" fill="#3c3c3c" style="font-family:'Liberation Sans',sans-serif" textLength="24.0" lengthAdjust="spacingAndGlyphs">5%</text>
<text x="186.95" y="115.0" font-size="16.3" text-anchor="start" fill="#3c3c3c" style="font-family:'Liberation Sans',sans-serif" textLength="39.0" lengthAdjust="spacingAndGlyphs">point</text>
<text x="232.60" y="115.0" font-size="16.3" text-anchor="start" fill="#3c3c3c" style="font-family:'Liberation Sans',sans-serif" textLength="108.5" lengthAdjust="spacingAndGlyphs">(x=1510.31s)</text>
<text x="157.40" y="139.1" font-size="16.3" text-anchor="start" fill="#3c3c3c" style="font-family:'Liberation Sans',sans-serif" textLength="34.45" lengthAdjust="spacingAndGlyphs">Type</text>
<text x="197.80" y="139.1" font-size="16.3" text-anchor="start" fill="#3c3c3c" style="font-family:'Liberation Sans',sans-serif">I</text>
<text x="207.60" y="139.1" font-size="16.3" text-anchor="start" fill="#3c3c3c" style="font-family:'Liberation Sans',sans-serif" textLength="38.25" lengthAdjust="spacingAndGlyphs">Error</text>
<text x="251.90" y="139.1" font-size="16.3" text-anchor="start" fill="#3c3c3c" style="font-family:'Liberation Sans',sans-serif" textLength="54.45" lengthAdjust="spacingAndGlyphs">Region</text>
</g>
</svg>
</body></html>
